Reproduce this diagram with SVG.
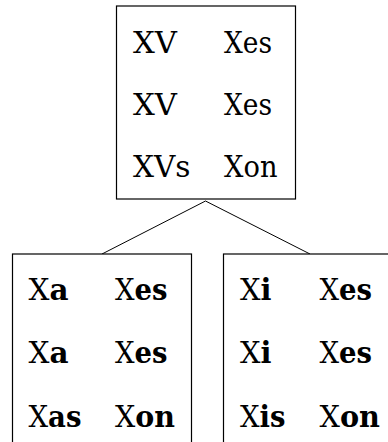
<svg xmlns="http://www.w3.org/2000/svg" width="388" height="442" viewBox="0 0 388 442">
<style>
.box{fill:#fff;stroke:#000;stroke-width:1.2}
.t{font-family:'DejaVu Serif',serif;font-size:30px;fill:#000}
.b{font-weight:bold}
.c{stroke:#000;stroke-width:1;fill:none}
</style>
<rect width="388" height="442" fill="#fff"/>
<g id="connectors">
<polyline class="c" points="102,254 205.5,201 310,254"/>
</g>
<g id="top">
<rect class="box" x="116.5" y="6" width="179" height="193"/>
<text class="t" x="133" y="53" textLength="44" lengthAdjust="spacingAndGlyphs">XV</text>
<text class="t" x="224" y="53" textLength="48" lengthAdjust="spacingAndGlyphs">Xes</text>
<text class="t" x="133" y="115" textLength="44" lengthAdjust="spacingAndGlyphs">XV</text>
<text class="t" x="224" y="115" textLength="48" lengthAdjust="spacingAndGlyphs">Xes</text>
<text class="t" x="133" y="177" textLength="57.5" lengthAdjust="spacingAndGlyphs">XVs</text>
<text class="t" x="224" y="177" textLength="53.5" lengthAdjust="spacingAndGlyphs">Xon</text>
</g>
<g id="left">
<rect class="box" x="12.5" y="254" width="179" height="200"/>
<text class="t" x="28.5" y="300" textLength="40" lengthAdjust="spacingAndGlyphs">X<tspan class="b">a</tspan></text>
<text class="t" x="115" y="300" textLength="52.5" lengthAdjust="spacingAndGlyphs">X<tspan class="b">es</tspan></text>
<text class="t" x="28.5" y="363" textLength="40" lengthAdjust="spacingAndGlyphs">X<tspan class="b">a</tspan></text>
<text class="t" x="115" y="363" textLength="52.5" lengthAdjust="spacingAndGlyphs">X<tspan class="b">es</tspan></text>
<text class="t" x="28.5" y="427" textLength="53" lengthAdjust="spacingAndGlyphs">X<tspan class="b">as</tspan></text>
<text class="t" x="115" y="427" textLength="60" lengthAdjust="spacingAndGlyphs">X<tspan class="b">on</tspan></text>
</g>
<g id="right">
<rect class="box" x="223.5" y="254" width="179" height="200"/>
<text class="t" x="240" y="300" textLength="31.5" lengthAdjust="spacingAndGlyphs">X<tspan class="b">i</tspan></text>
<text class="t" x="319.5" y="300" textLength="52.5" lengthAdjust="spacingAndGlyphs">X<tspan class="b">es</tspan></text>
<text class="t" x="240" y="363" textLength="31.5" lengthAdjust="spacingAndGlyphs">X<tspan class="b">i</tspan></text>
<text class="t" x="319.5" y="363" textLength="52.5" lengthAdjust="spacingAndGlyphs">X<tspan class="b">es</tspan></text>
<text class="t" x="240" y="427" textLength="45.5" lengthAdjust="spacingAndGlyphs">X<tspan class="b">is</tspan></text>
<text class="t" x="319.5" y="427" textLength="60.5" lengthAdjust="spacingAndGlyphs">X<tspan class="b">on</tspan></text>
</g>
</svg>
